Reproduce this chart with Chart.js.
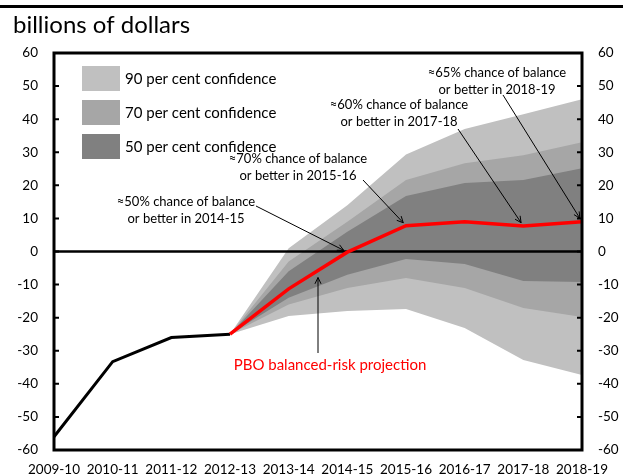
<!DOCTYPE html>
<html>
<head>
<meta charset="utf-8">
<script src="https://cdn.jsdelivr.net/npm/chart.js@4/dist/chart.umd.min.js"></script>
<style>
  html, body { margin: 0; padding: 0; background: #fff; }
  #wrap { width: 623px; height: 476px; }
</style>
</head>
<body>
<div id="wrap"><canvas id="balanceChart"></canvas></div>
<script>
// fiscal years on the x axis
const years = ['2009-10', '2010-11', '2011-12', '2012-13', '2013-14',
               '2014-15', '2015-16', '2016-17', '2017-18', '2018-19'];

// budgetary balance, billions of dollars
const actual     = [-56, -33.3, -26, -25, null, null, null, null, null, null];
const projection = [null, null, null, -25, -11.3, -0.2, 7.8, 9.0, 7.7, 9.0];

// fan chart bounds around the projection
const upper50 = [null, null, null, -25, -6, 6, 16.8, 20.7, 21.6, 25.2];
const lower50 = [null, null, null, -25, -14, -7, -2.3, -3.8, -8.9, -9.2];
const upper70 = [null, null, null, -25, -3, 9, 21.6, 26.7, 29.1, 33];
const lower70 = [null, null, null, -25, -16, -11, -8, -11, -17.1, -19.8];
const upper90 = [null, null, null, -25, 1, 14, 29.3, 37, 41.5, 46];
const lower90 = [null, null, null, -25, -19.5, -18, -17.4, -23.1, -32.8, -37.3];

const bandLabels = ['90 per cent confidence', '70 per cent confidence', '50 per cent confidence'];
const bandColors = ['#c0c0c0', '#a6a6a6', '#808080'];

// callouts pointing at the projection line
const notes = [
  { text: ['≈50% chance of balance', 'or better in 2014-15'], at: 5, cx: 186, cy: 202, tail: [256, 206] },
  { text: ['≈70% chance of balance', 'or better in 2015-16'], at: 6, cx: 298, cy: 159, tail: [363, 180] },
  { text: ['≈60% chance of balance', 'or better in 2017-18'], at: 8, cx: 399, cy: 105, tail: [458, 129] },
  { text: ['≈65% chance of balance', 'or better in 2018-19'], at: 9, cx: 497, cy: 73, tail: [503, 95] }
];

const FONT = 'Lato, "DejaVu Sans", sans-serif';

function arrow(ctx, x1, y1, x2, y2) {
  const ang = Math.atan2(y2 - y1, x2 - x1);
  const len = 7, spread = 0.45;
  ctx.beginPath();
  ctx.moveTo(x1, y1);
  ctx.lineTo(x2, y2);
  ctx.moveTo(x2 - len * Math.cos(ang - spread), y2 - len * Math.sin(ang - spread));
  ctx.lineTo(x2, y2);
  ctx.lineTo(x2 - len * Math.cos(ang + spread), y2 - len * Math.sin(ang + spread));
  ctx.stroke();
}

const decorations = {
  id: 'decorations',
  // zero line sits over the bands but under the two lines
  afterDatasetDraw(chart, args) {
    if (args.index !== 2) return;
    const { ctx, chartArea: a, scales: { y } } = chart;
    const y0 = y.getPixelForValue(0);
    ctx.save();
    ctx.strokeStyle = '#000';
    ctx.lineWidth = 2.5;
    ctx.beginPath();
    ctx.moveTo(a.left, y0);
    ctx.lineTo(a.right, y0);
    ctx.stroke();
    ctx.restore();
  },
  afterDatasetsDraw(chart) {
    const { ctx, chartArea: a, scales: { x, y } } = chart;
    ctx.save();

    // frame and inward ticks
    ctx.strokeStyle = '#000';
    ctx.lineWidth = 3;
    ctx.strokeRect(a.left, a.top, a.right - a.left, a.bottom - a.top);
    ctx.lineWidth = 2;
    y.ticks.forEach(t => {
      const py = y.getPixelForValue(t.value);
      ctx.beginPath();
      ctx.moveTo(a.left, py); ctx.lineTo(a.left + 5, py);
      ctx.moveTo(a.right, py); ctx.lineTo(a.right - 5, py);
      ctx.stroke();
    });

    // legend
    ctx.font = '15px ' + FONT;
    ctx.textBaseline = 'middle';
    ctx.textAlign = 'left';
    bandLabels.forEach((label, i) => {
      ctx.fillStyle = bandColors[i];
      ctx.fillRect(82, 66 + 34 * i, 38, 25);
      ctx.fillStyle = '#000';
      ctx.fillText(label, 125, 79 + 34 * i);
    });

    // callouts
    ctx.font = '13px ' + FONT;
    ctx.textAlign = 'center';
    ctx.lineWidth = 1;
    notes.forEach(n => {
      ctx.fillStyle = '#000';
      ctx.fillText(n.text[0], n.cx, n.cy);
      ctx.fillText(n.text[1], n.cx, n.cy + 17);
      const tx = x.getPixelForValue(n.at);
      const ty = y.getPixelForValue(projection[n.at]);
      const dx = tx - n.tail[0], dy = ty - n.tail[1];
      const d = Math.hypot(dx, dy);
      arrow(ctx, n.tail[0], n.tail[1], tx - dx / d * 4, ty - dy / d * 4);
    });

    // projection label with upward arrow
    const px = (x.getPixelForValue(4) + x.getPixelForValue(5)) / 2;
    const py = y.getPixelForValue((projection[4] + projection[5]) / 2) + 7;
    arrow(ctx, px, 353, px, py);
    ctx.font = '15px ' + FONT;
    ctx.fillStyle = '#ff0000';
    ctx.fillText('PBO balanced-risk projection', 330, 365);

    ctx.restore();
  },
  afterDraw(chart) {
    const { ctx } = chart;
    ctx.save();
    ctx.fillStyle = '#000';
    ctx.fillRect(0, 5, 623, 3);
    ctx.font = '24px ' + FONT;
    ctx.textAlign = 'left';
    ctx.textBaseline = 'alphabetic';
    ctx.fillText('billions of dollars', 13, 33);
    ctx.restore();
  }
};

function band(label, data, fill, color) {
  return {
    label, data, fill,
    backgroundColor: color,
    borderWidth: 0,
    pointRadius: 0,
    tension: 0
  };
}

const yAxis = (position, width) => ({
  type: 'linear',
  position,
  min: -60,
  max: 60,
  grid: { display: false, drawTicks: false },
  border: { display: false },
  ticks: { stepSize: 10, padding: 16, color: '#000', font: { family: FONT, size: 13.5 } },
  afterFit(scale) { scale.width = width; }
});

new Chart(document.getElementById('balanceChart'), {
  type: 'line',
  data: {
    labels: years,
    datasets: [
      { label: 'PBO balanced-risk projection', data: projection, borderColor: '#ff0000',
        borderWidth: 3.5, pointRadius: 0, fill: false, tension: 0 },
      { label: 'Actual', data: actual, borderColor: '#000',
        borderWidth: 3, pointRadius: 0, fill: false, tension: 0 },
      band(bandLabels[2], upper50, '+1', bandColors[2]),
      band('50 lower', lower50, false, bandColors[2]),
      band(bandLabels[1], upper70, '+1', bandColors[1]),
      band('70 lower', lower70, false, bandColors[1]),
      band(bandLabels[0], upper90, '+1', bandColors[0]),
      band('90 lower', lower90, false, bandColors[0])
    ]
  },
  options: {
    responsive: true,
    maintainAspectRatio: false,
    animation: false,
    layout: { padding: { top: 53, left: 0, right: 0, bottom: 0 } },
    plugins: {
      legend: { display: false },
      tooltip: { enabled: false }
    },
    scales: {
      x: {
        type: 'category',
        offset: false,
        grid: { display: false, drawTicks: false },
        border: { display: false },
        ticks: { autoSkip: false, maxRotation: 0, padding: 12, color: '#000',
                 font: { family: FONT, size: 13.5 } },
        afterFit(scale) { scale.height = 26; }
      },
      y: yAxis('left', 54),
      y2: yAxis('right', 41)
    }
  },
  plugins: [decorations]
});
</script>
</body>
</html>
